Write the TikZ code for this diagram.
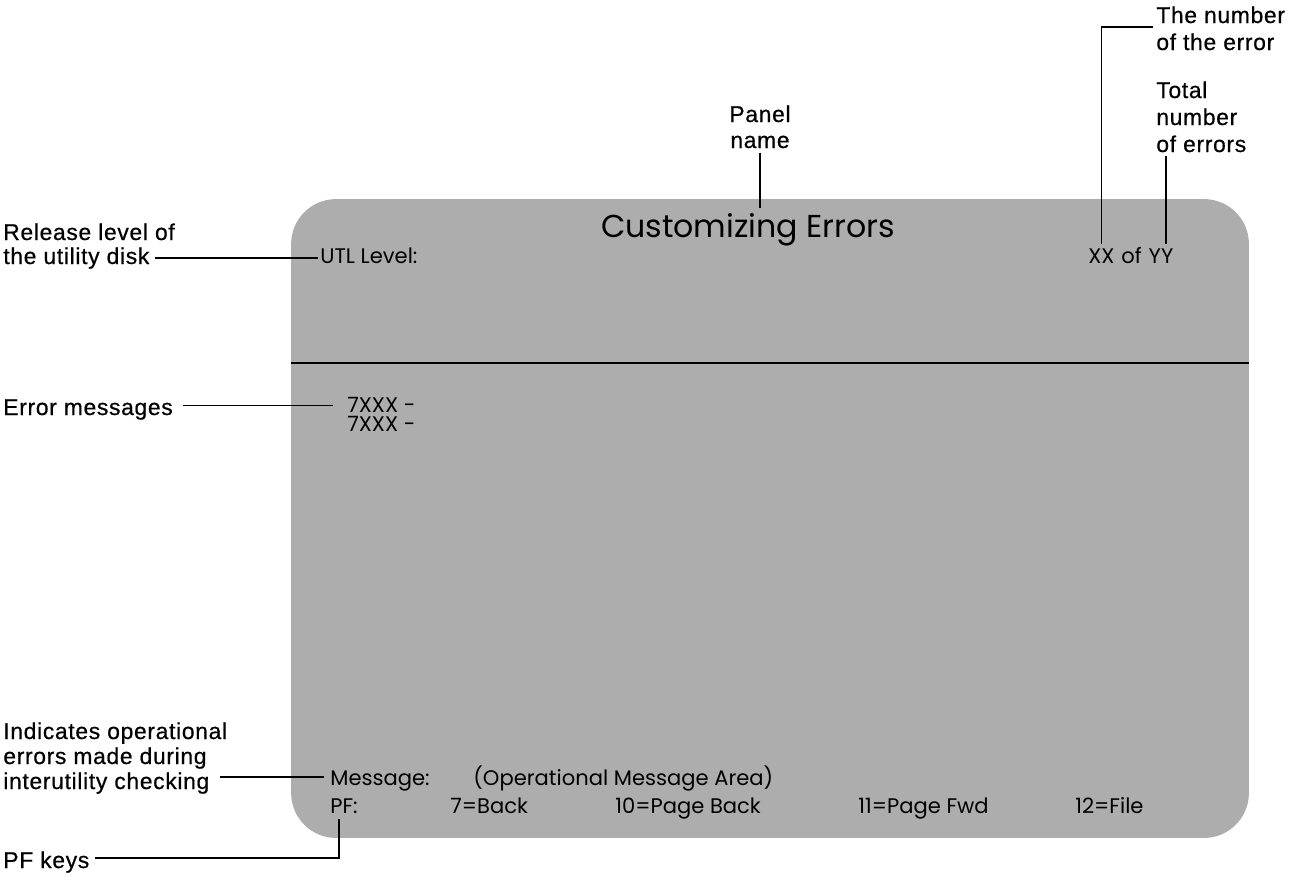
\documentclass[tikz,border=0pt]{standalone}
\usepackage{fontspec}
\setmainfont{Liberation Sans}
\newfontfamily\labfont{Liberation Sans}[LetterSpace=3,FakeBold=0.6]
\newfontfamily\scrfont{Poppins}
\usetikzlibrary{calc}
\begin{document}
\begin{tikzpicture}[x=0.02cm,y=-0.02cm,
  lab/.style={font=\labfont\fontsize{13}{15}\selectfont, inner sep=0pt, anchor=base west},
  labc/.style={font=\labfont\fontsize{13}{15}\selectfont, inner sep=0pt, anchor=base},
  scr/.style={font=\scrfont\fontsize{12}{14}\selectfont, inner sep=0pt, anchor=base west},
  conn/.style={line width=0.8pt},
  sepline/.style={line width=1pt}]
\useasboundingbox (0,0) rectangle (1300,877);
% panel
\node[fill=black!32, draw=none, rounded corners=0.9cm, inner sep=0pt,
      minimum width=19.16cm, minimum height=12.78cm] (panel) at (770,518.5) {};
\draw[sepline] (291,363) -- (1249,363);
% panel texts
\node[font=\scrfont\fontsize{18}{20}\selectfont, inner sep=0pt, anchor=base] (title) at (748,237) {Customizing Errors};
\node[scr] (utl) at (320,263) {UTL Level:};
\node[scr] (xxa) at (1088,263) {XX};
\node[scr] (ofw) at ([xshift=3.5pt]xxa.base east) {of};
\node[scr] (yya) at ([xshift=3.5pt]ofw.base east) {YY};
\node[scr] (e1) at (347,412) {7XXX -};
\node[scr] (e2) at (347,431) {7XXX -};
\node[scr] (msg) at (330,785) {Message:};
\node[scr] (opm) at (473,785) {(Operational Message Area)};
\node[scr] (pf) at (330,813) {PF:};
\node[scr] (b7) at (450,813) {7=Back};
\node[scr] (b10) at (615,813) {10=Page Back};
\node[scr] (b11) at (858,813) {11=Page Fwd};
\node[scr] (b12) at (1075,813) {12=File};
% labels
\node[labc] (pn1) at (760,122) {Panel};
\node[labc] (pn2) at (760,148) {name};
\node[lab] (tn1) at (1156,23) {The number};
\node[lab] (tn2) at (1156,50) {of the error};
\node[lab] (tt1) at (1156,98) {Total};
\node[lab] (tt2) at (1156,125) {number};
\node[lab] (tt3) at (1156,152) {of errors};
\node[lab] (rl1) at (3,240) {Release level of};
\node[lab] (rl2) at (3,264) {the utility disk};
\node[lab] (em) at (3,415) {Error messages};
\node[lab] (in1) at (3,739) {Indicates operational};
\node[lab] (in2) at (3,764) {errors made during};
\node[lab] (in3) at (3,789) {interutility checking};
\node[lab] (pfk) at (3,868) {PF keys};
% connectors
\draw[conn] (pn2.south) ++(0,4) -- ($(pn2.south |- title.north)+(0,-5)$);
\coordinate (c0) at ($(tn1.base west)+(-3,4)$);
\draw[conn] (c0) -| ($(xxa.north)+(0,-4)$);
\coordinate (c1) at ($(tt3.base west)+(10,4)$);
\draw[conn] (c1) -- ($(c1 |- yya.north)+(0,-4)$);
\draw[conn] ($(rl2.east)+(5,0)$) -- ($(rl2.east -| utl.west)+(-2,0)$);
\draw[conn] ($(em.east)+(10,-4)$) -- ($(em.east -| e1.west)+(-14,-4)$);
\draw[conn] ($(in3.east)+(10,-6)$) -- ($(in3.east -| msg.west)+(-6,-6)$);
\draw[conn] ($(pfk.east)+(5,-4)$) -| ($(pf.south)+(-5,5)$);
\end{tikzpicture}
\end{document}
